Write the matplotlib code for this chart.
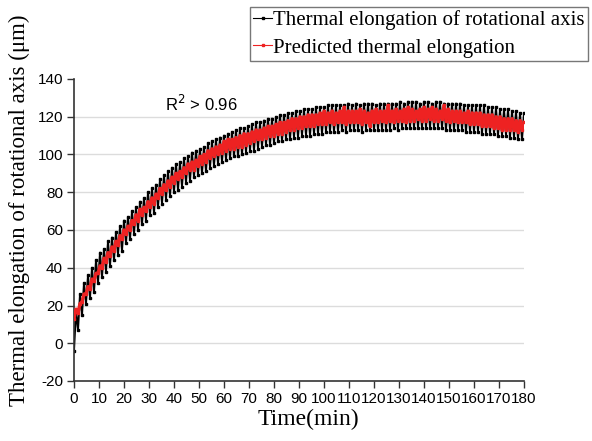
import numpy as np
import matplotlib
matplotlib.use("Agg")
import matplotlib.pyplot as plt
from matplotlib.lines import Line2D

plt.rcParams["axes.unicode_minus"] = False

# ---------------- data ----------------
half_period = 0.8  # minutes between successive samples

# measured elongation: troughs (t = 0, 1.6, ...) and peaks (t = 0.8, 2.4, ...)
black_troughs = [
    -4, 7, 15, 21, 24, 27, 32, 35, 38, 41,
    44, 47, 49, 53, 55, 58, 60, 63, 65, 68,
    69, 72, 74, 76, 78, 80, 81, 83, 85, 86,
    88, 89, 90, 91, 93, 94, 95, 96, 97, 98,
    99, 99, 100, 101, 102, 102, 103, 104, 105, 105,
    106, 107, 107, 108, 108, 109, 109, 110, 110, 110,
    111, 111, 111, 112, 112, 112, 112, 113, 112, 113,
    113, 113, 112, 113, 113, 113, 113, 113, 113, 113,
    114, 113, 114, 114, 114, 114, 114, 114, 114, 114,
    114, 114, 114, 113, 113, 113, 113, 113, 112, 112,
    112, 112, 111, 111, 111, 111, 110, 110, 110, 109,
    109, 108, 108,
]
black_peaks = [
    17, 26, 32, 36, 40, 44, 48, 50, 54, 56,
    59, 62, 65, 67, 70, 72, 75, 77, 80, 82,
    84, 87, 89, 91, 93, 95, 96, 98, 99, 101,
    102, 103, 104, 106, 107, 108, 109, 110, 111, 112,
    113, 114, 114, 115, 116, 117, 117, 118, 119, 119,
    120, 121, 121, 122, 122, 123, 123, 124, 124, 124,
    125, 125, 125, 126, 126, 126, 126, 126, 127, 126,
    127, 126, 127, 127, 127, 126, 127, 127, 127, 127,
    127, 128, 127, 128, 128, 128, 127, 128, 128, 127,
    128, 128, 127, 127, 127, 127, 127, 126, 126, 126,
    126, 126, 126, 125, 125, 125, 124, 124, 124, 123,
    123, 122, 122,
]

# predicted elongation, one value per sample
red_values = [
    13, 18, 16, 21, 22, 26, 26, 30, 29, 34, 33, 37, 37, 41, 40, 45, 43, 48, 46, 51,
    49, 54, 52, 57, 55, 60, 58, 62, 60, 65, 63, 68, 65, 71, 68, 72, 70, 75, 72, 77,
    74, 79, 77, 82, 79, 84, 81, 86, 83, 88, 85, 90, 87, 91, 88, 93, 90, 95, 92, 96,
    92, 97, 94, 99, 95, 100, 96, 102, 98, 103, 99, 104, 100, 105, 101, 107, 102, 108, 103, 108,
    103, 109, 104, 110, 104, 111, 105, 111, 106, 112, 107, 113, 108, 113, 108, 114, 109, 115, 110, 115,
    110, 116, 111, 117, 111, 117, 112, 118, 113, 119, 113, 119, 114, 120, 114, 120, 115, 121, 115, 121,
    115, 121, 116, 122, 116, 123, 116, 122, 117, 123, 116, 122, 117, 123, 117, 125, 116, 123, 117, 123,
    117, 123, 117, 124, 116, 123, 117, 122, 115, 123, 117, 124, 117, 123, 118, 123, 117, 126, 118, 123,
    117, 124, 118, 123, 118, 124, 117, 125, 118, 124, 118, 123, 119, 124, 118, 125, 118, 124, 119, 125,
    118, 124, 118, 123, 119, 126, 118, 124, 117, 123, 118, 123, 117, 123, 117, 122, 117, 123, 116, 122,
    116, 122, 116, 122, 115, 121, 115, 121, 115, 121, 114, 120, 114, 120, 113, 119, 113, 119, 113, 119,
    113, 118, 112, 118, 113, 117,
]

x_ticks = list(range(0, 181, 10))
y_ticks = list(range(-20, 141, 20))
legend_labels = ["Thermal elongation of rotational axis", "Predicted thermal elongation"]
annotation = r"R$^2$ > 0.96"

# ---------------- build series ----------------
black_vals = []
for tr, pk in zip(black_troughs, black_peaks):
    black_vals.extend([tr, pk])
black_vals = np.array(black_vals, dtype=float)
t_black = np.arange(len(black_vals)) * half_period
red_vals = np.array(red_values, dtype=float)
t_red = np.arange(len(red_vals)) * half_period

# ---------------- figure ----------------
fig = plt.figure(figsize=(5.92, 4.41), dpi=100)
ax = fig.add_axes([74 / 592, 1 - 381 / 441, (524 - 74) / 592, (381 - 79) / 441])

for y in y_ticks[1:-1]:
    ax.axhline(y, color="#dcdcdc", lw=1.0, zorder=0)

ax.plot(t_black, black_vals, color="black", lw=1.4, marker="s", ms=1.6, zorder=2)
ax.plot(t_red, red_vals, color="#ee2222", lw=2.4, marker="s", ms=1.5, zorder=3)

ax.set_xlim(0, 180)
ax.set_ylim(-20, 140)
ax.set_xticks(x_ticks)
ax.set_yticks(y_ticks)
ax.tick_params(direction="out", length=5, width=1, color="#333333",
               labelsize=11, pad=3)
for lab in ax.get_xticklabels() + ax.get_yticklabels():
    lab.set_family(["Liberation Sans", "DejaVu Sans"])
for s in ["top", "right"]:
    ax.spines[s].set_visible(False)
for s in ["left", "bottom"]:
    ax.spines[s].set_color("#333333")
    ax.spines[s].set_linewidth(1.2)

ax.set_xlabel("Time(min)", family="Liberation Serif", fontsize=17)
ax.set_ylabel("Thermal elongation of rotational axis (\u03bcm)",
              family="Liberation Serif", fontsize=16.5)
ax.xaxis.set_label_coords(0.52, -0.092)
ax.yaxis.set_label_coords(-0.098, 0.567)

ax.text(36.5, 127, annotation, family=["Liberation Sans", "DejaVu Sans"],
        fontsize=12, ha="left", va="center")

handles = [
    Line2D([], [], color="black", lw=0.8, marker="s", ms=1.5),
    Line2D([], [], color="#ee2222", lw=0.8, marker="s", ms=1.5),
]
leg = fig.legend(handles, legend_labels, loc="upper left",
                 bbox_to_anchor=(250 / 592, 1 - 7 / 441), frameon=True, fancybox=False,
                 prop={"family": "Liberation Serif", "size": 15},
                 handlelength=0.9, handletextpad=0.05, borderpad=0.15,
                 borderaxespad=0, labelspacing=0.38)
leg.get_frame().set_edgecolor("#555555")
leg.get_frame().set_linewidth(1.0)

fig.savefig("out.png", dpi=100)
